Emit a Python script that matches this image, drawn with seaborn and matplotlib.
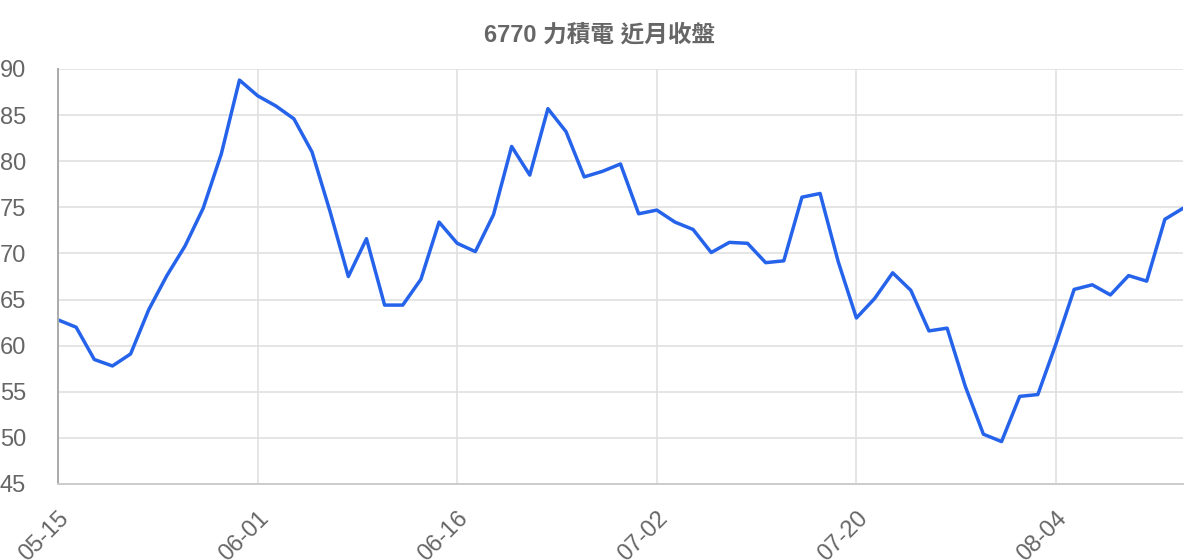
import matplotlib
matplotlib.use("Agg")
import matplotlib.pyplot as plt
import seaborn as sns
import pandas as pd

# --- data ---
TITLE = "6770 力積電 近月收盤"
TICK_LABELS = ["05-15", "06-01", "06-16", "07-02", "07-20", "08-04"]
TICK_EVERY = 11
CLOSE = [
    62.8, 62.0, 58.5, 57.8, 59.1, 63.9, 67.6, 70.8, 74.9, 80.8,
    88.8, 87.1, 86.0, 84.6, 81.0, 74.5, 67.5, 71.6, 64.4, 64.4,
    67.2, 73.4, 71.1, 70.2, 74.2, 81.6, 78.5, 85.7, 83.2, 78.3,
    78.9, 79.7, 74.3, 74.7, 73.4, 72.6, 70.1, 71.2, 71.1, 69.0,
    69.2, 76.1, 76.5, 69.1, 63.0, 65.1, 67.9, 66.0, 61.6, 61.9,
    55.6, 50.4, 49.6, 54.5, 54.7, 60.2, 66.1, 66.6, 65.5, 67.6,
    67.0, 73.7, 74.9,
]

df = pd.DataFrame({"idx": range(len(CLOSE)), "close": CLOSE})

sns.set_theme(style="white")
plt.rcParams["font.family"] = ["Liberation Sans", "Noto Sans CJK TC", "DejaVu Sans"]

fig = plt.figure(figsize=(12, 5.6), dpi=100)
ax = fig.add_axes([58 / 1200, 1 - 484 / 560, (1183 - 58) / 1200, (484 - 69) / 560])

sns.lineplot(data=df, x="idx", y="close", ax=ax, color="#2563eb", linewidth=2.5)

ax.set_xlim(0, len(CLOSE) - 1)
ax.set_ylim(45, 90)
ax.set_yticks(range(45, 91, 5))
ax.set_xticks(range(0, len(CLOSE), TICK_EVERY))
ax.set_xticklabels(TICK_LABELS, rotation=45, ha="right", va="top",
                   rotation_mode="anchor")
ax.set_xlabel("")
ax.set_ylabel("")

ax.grid(True, color="#e0e0e0", linewidth=1.2)
ax.set_axisbelow(True)
ax.tick_params(axis="both", colors="#e0e0e0", labelcolor="#666666",
               labelsize=17, length=14, width=1.2, pad=3)
ax.tick_params(axis="y", length=20)

for side in ["top", "right"]:
    ax.spines[side].set_visible(False)
ax.spines["left"].set_color("#aaaaaa")
ax.spines["left"].set_linewidth(1.4)
ax.spines["bottom"].set_color("#cccccc")
ax.spines["bottom"].set_linewidth(1.4)

fig.text(600 / 1200, 1 - 35 / 560, TITLE, ha="center", va="center",
         fontsize=17, fontweight="bold", color="#666666",
         family=["Liberation Sans", "Noto Sans CJK TC"])

fig.savefig("out.png", dpi=100, facecolor="white")
